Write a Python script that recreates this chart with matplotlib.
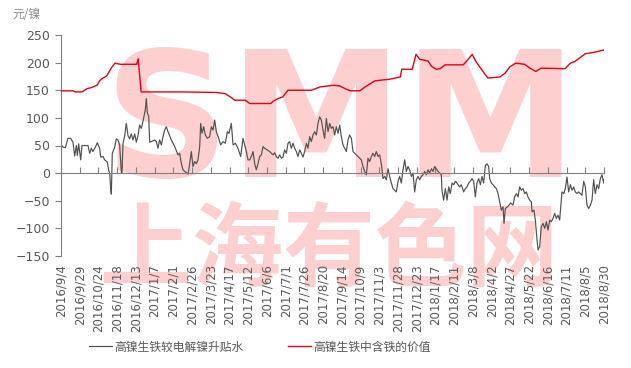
import numpy as np
import pandas as pd
from matplotlib import pyplot as plt

plt.rcParams['font.family'] = ['DejaVu Sans', 'Noto Sans CJK SC']

# days counted from 2016/9/4
start = pd.Timestamp('2016-09-04')

# 高镍生铁中含铁的价值 (red)
red_day = [0, 16, 19, 28, 35, 41, 48, 52, 56, 61, 67, 72, 79, 101, 103, 107, 160, 207, 219,
           226, 232, 246, 252, 280, 283, 290, 296, 303, 334, 346, 363, 372, 379, 386, 399,
           406, 419, 439, 453, 455, 469, 474, 479, 490, 495, 501, 506, 513, 537, 543, 549,
           554, 565, 570, 586, 593, 599, 607, 619, 626, 634, 641, 673, 680, 686, 700, 713, 725]
red_val = [149, 149, 147, 147, 153, 155, 159, 168, 172, 176, 190, 199, 197, 197, 207, 147, 147,
           146, 144, 138, 132, 132, 126, 126, 130, 135, 138, 150, 150, 156, 159, 158, 153, 149,
           149, 156, 167, 170, 174, 188, 188, 215, 206, 203, 193, 188, 189, 196, 196, 205, 215,
           202, 181, 172, 174, 181, 192, 199, 197, 190, 184, 190, 189, 199, 202, 216, 219, 223]

# 高镍生铁较电解镍升贴水 (gray)
gray_day = [0.4, 2.7, 5.8, 9.3, 12.9, 16.0, 18.2, 20.5, 21.8, 23.6, 26.3, 28.0, 36.0, 38.3,
            40.5, 42.7, 45.8, 48.5, 51.6, 53.0, 56.1, 58.3, 61.9, 63.6, 65.0, 66.3, 67.2, 68.5,
            71.7, 73.9, 76.1, 78.3, 80.6, 81.4, 82.8, 85.0, 87.2, 89.5, 91.7, 93.9, 96.1, 98.4,
            100.6, 102.8, 105.0, 107.3, 109.5, 110.8, 112.6, 113.9, 115.3, 117.1, 118.4, 120.6,
            125.1, 127.3, 129.5, 131.7, 134.0, 136.2, 138.4, 140.6, 142.9, 147.3, 151.8, 156.2,
            158.4, 160.7, 162.9, 165.1, 167.3, 169.6, 171.8, 174.0, 176.2, 178.5, 180.7, 182.9,
            185.2, 186.5, 188.3, 190.5, 192.7, 195.4, 198.5, 200.7, 203.0, 205.2, 207.4, 210.5,
            213.2, 216.3, 219.4, 222.1, 224.3, 227.4, 229.7, 232.8, 236.3, 239.9, 243.0,
            245.2, 247.5, 249.7, 251.9, 254.1, 256.4, 258.6, 260.8, 263.0, 265.3, 267.5, 269.7,
            271.9, 274.2, 276.4, 278.6, 280.8, 283.1, 285.3, 287.5, 289.7, 292.0, 294.2, 296.4,
            298.6, 300.9, 303.1, 305.3, 307.5, 309.8, 312.0, 314.2, 316.4, 318.7, 320.9, 323.1,
            325.3, 327.6, 329.8, 332.0, 334.2, 336.5, 338.7, 340.9, 343.1, 345.4, 347.6, 349.8,
            352.0, 354.3, 356.5, 358.7, 360.9, 363.2,
            365.4, 367.6, 369.9, 372.1, 374.3, 376.5, 378.8, 381.0, 383.2, 385.4, 387.7, 389.9,
            392.1, 396.6, 401.0, 403.2, 405.5, 407.7, 409.9, 412.1, 414.4, 416.6, 418.8, 421.0,
            423.3, 425.5, 427.7, 429.9, 432.2, 434.4, 436.6, 438.8, 441.1, 443.3, 445.5, 447.7,
            450.0, 452.2, 454.4, 456.6, 458.9, 461.1, 463.3, 465.5, 467.8, 470.0, 472.2, 474.4,
            476.7, 478.9, 481.1, 483.3,
            485.6, 487.8, 490.0, 492.2, 494.5, 496.7, 498.9, 501.1, 503.4, 505.6, 507.8, 508.7,
            510.9, 513.2, 515.4, 517.6, 519.8, 522.1, 524.3, 526.5, 528.7, 532.3, 534.5, 537.6,
            539.9, 542.1, 544.3, 546.5, 548.8, 551.0, 553.2, 555.4, 557.7, 559.9, 562.1, 564.3,
            566.6, 568.8, 571.0, 572.4, 574.6, 576.8, 579.0, 581.3, 583.5, 585.7, 587.9, 590.2,
            591.5, 593.3, 596.0, 598.2, 600.4, 603.5,
            605.7, 608.0, 610.2, 612.4, 614.6, 616.9, 619.1, 621.3, 623.5, 625.8, 628.0, 628.9,
            631.5, 633.3, 635.6, 636.9, 639.1, 641.3, 643.6, 645.8, 648.0, 650.2, 652.5, 654.7,
            656.9, 659.1, 661.4, 663.6, 665.8, 667.2, 668.9, 671.2, 673.4, 675.6, 677.8, 680.1,
            682.3, 684.5, 686.7, 689.0, 691.2, 693.4, 695.6, 697.9, 700.1, 702.3, 704.5, 706.8,
            709.0, 711.2, 713.4, 715.7, 717.9, 720.1, 722.3, 724.6, 725.0]
gray_val = [51, 47, 46, 63, 63, 56, 31, 50, 32, 53, 24, 50, 50, 36,
            45, 39, 47, 55, 45, 29, 30, 24, 20, 5, 0, -28, -38, 36,
            47, 62, 60, 51, 1, 0, 54, 67, 90, 68, 62, 71, 60, 71,
            56, 68, 87, 81, 94, 103, 115, 135, 109, 103, 56, 57,
            60, 57, 45, 60, 51, 66, 78, 84, 75, 60, 48, 33,
            36, 17, 6, 3, 1, -2, 17, 39, 12, 21, 17, 24,
            48, 90, 72, 84, 69, 63, 66, 84, 78, 96, 75, 63,
            51, 57, 54, 75, 72, 90, 51, 54, 45, 30, 63,
            51, 39, 24, 24, 30, 39, 17, 6, 17, 30, 33, 48,
            45, 43, 41, 39, 36, 33, 37, 30, 27, 33, 27, 29,
            42, 36, 54, 57, 45, 54, 45, 39, 30, 42, 36, 29,
            39, 54, 45, 66, 57, 69, 75, 69, 90, 102, 96, 78,
            63, 99, 75, 90, 81, 84,
            69, 84, 72, 87, 66, 51, 45, 39, 60, 69, 63, 39,
            36, 30, 24, 12, 3, -3, 27, 21, 30, 36, 30, 39,
            30, 33, 17, -10, -6, -12, 8, -6, -18, -28, -31, -34,
            -15, -6, -18, 6, 24, 3, 12, 6, -6, 0, -34, -12,
            -6, -12, -6, -3,
            3, -3, 6, 0, 8, 3, 12, 8, 3, 0, -3, -31,
            -49, -28, -49, -25, -37, -18, -21, -15, -18, -25, -21, -34,
            -28, -25, -18, -15, -10, -15, -43, -18, -10, -21, -6, -18,
            14, 17, 12, -10, -18, -21, -25, -28, -37, -52, -67, -61,
            -91, -64, -61, -58, -54, -58,
            -43, -37, -43, -25, -31, -28, -37, -34, -43, -49, -52, -70,
            -67, -85, -121, -139, -133, -97, -91, -100, -88, -103, -85, -88,
            -82, -73, -82, -76, -85, -61, -34, -37, -28, -7, -34, -21,
            -31, -25, -34, -37, -34, -37, -40, -15, -25, -58, -64, -58,
            -49, -12, -37, -21, -28, -10, -3, -18, -12]

tick_day = np.arange(0, 726, 25)
tick_dates = start + pd.to_timedelta(tick_day, unit='D')
tick_labels = [f'{d.year}/{d.month}/{d.day}' for d in tick_dates]

gray_name = '高镍生铁较电解镍升贴水'
red_name = '高镍生铁中含铁的价值'

text_c = '#595959'
axis_c = '#7f7f7f'
mark_c = '#fdcfcf'

fig = plt.figure(figsize=(6.31, 3.68), dpi=100)
ax = fig.add_axes([61 / 631, 1 - 256 / 368, 543 / 631, 221 / 368])

# watermark (behind everything else)
ax.text(0.515, 0.575, 'SMM', transform=ax.transAxes, ha='center', va='center',
        fontsize=126, fontweight='bold', color=mark_c, zorder=0.1, clip_on=False)
ax.text(0.494, 0.02, '上海有色网', transform=ax.transAxes, ha='center', va='center',
        fontsize=66, fontweight='bold', color=mark_c, zorder=0.1, clip_on=False,
        family=['Noto Sans CJK SC'])

l1, = ax.plot(gray_day, gray_val, color='#505050', lw=0.85, zorder=2)
l2, = ax.plot(red_day, red_val, color='#e60012', lw=1.0, zorder=3)

ax.set_xlim(0, 725)
ax.set_ylim(-150, 250)
ax.set_yticks(np.arange(-150, 251, 50))

for s in ['top', 'right']:
    ax.spines[s].set_visible(False)
ax.spines['left'].set_color(axis_c)
ax.spines['bottom'].set_color(axis_c)
ax.spines['bottom'].set_position(('data', 0))

ax.set_xticks(tick_day)
ax.tick_params(axis='x', direction='in', length=4, color=axis_c, labelbottom=False)
ax.tick_params(axis='y', direction='out', length=4, color=axis_c, labelcolor=text_c,
               labelsize=9, pad=4)

sec = ax.secondary_xaxis('bottom')
sec.set_zorder(5)
sec.set_xticks(tick_day, labels=tick_labels, rotation=90)
sec.tick_params(length=0, labelcolor=text_c, labelsize=8.5, pad=6)
sec.spines['bottom'].set_visible(False)

fig.text(12 / 631, 1 - 15 / 368, '元/镍', color='#8c8c8c', fontsize=8.5, va='center',
         family=['Noto Sans CJK SC', 'DejaVu Sans'])

fig.legend([l1, l2], [gray_name, red_name], loc='center', ncol=2,
           bbox_to_anchor=(260 / 631, 1 - 347 / 368), frameon=False,
           prop={'family': ['Noto Sans CJK SC', 'DejaVu Sans'], 'size': 8.5},
           labelcolor=text_c, handlelength=1.9, handletextpad=0.2, columnspacing=3.8)

fig.savefig('out.png', dpi=100)
